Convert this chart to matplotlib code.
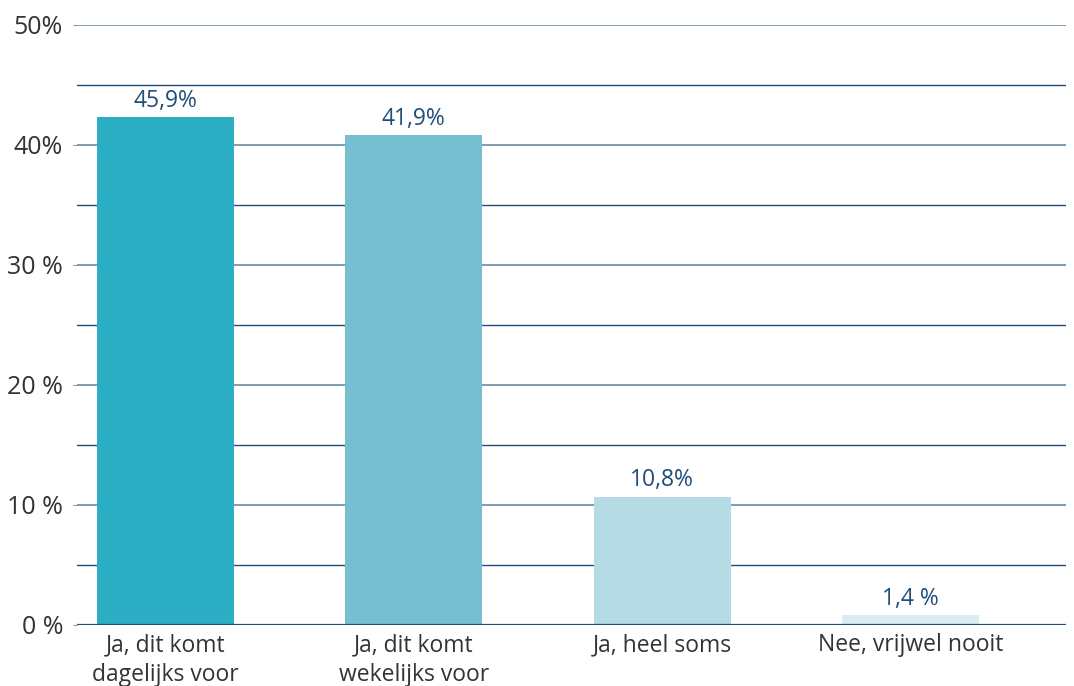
import matplotlib
matplotlib.use('Agg')
import matplotlib.pyplot as plt
import numpy as np

plt.rcParams['font.family'] = ['Open Sans', 'DejaVu Sans']

# bar heights as drawn, and the labels printed above them
categories = ['Ja, dit komt\ndagelijks voor', 'Ja, dit komt\nwekelijks voor',
              'Ja, heel soms', 'Nee, vrijwel nooit']
heights = [42.3, 40.8, 10.7, 0.8]
value_labels = ['45,9%', '41,9%', '10,8%', '1,4 %']
ytick_vals = [0, 10, 20, 30, 40, 50]
ytick_labels = ['0 %', '10 %', '20 %', '30 %', '40%', '50%']

colors = ['#2caec5', '#76bfd0', '#b5dbe5', '#d8ecf2']
navy = '#1f4e79'
light_grid = '#7d9db3'

fig = plt.figure(figsize=(10.74, 6.86), dpi=100)
ax = fig.add_axes([77/1074, 61/686, 989/1074, 600/686])

x = np.arange(len(categories))
ax.bar(x, heights, width=0.552, color=colors, zorder=3)

# grid: darker lines at the halves, lighter at the labelled ticks
for v in range(5, 50, 10):
    ax.axhline(v, color=navy, lw=1.0, zorder=1)
for v in range(10, 51, 10):
    ax.axhline(v, color=light_grid, lw=1.4, zorder=1)
ax.axhline(0, color=navy, lw=1.6, zorder=4)

for xi, h, lab in zip(x, heights, value_labels):
    ax.annotate(lab, (xi, h), xytext=(0, 3), textcoords='offset points',
                ha='center', va='bottom', fontsize=16.5, color=navy)

ax.set_xlim(-0.356, 3.626)
ax.set_ylim(0, 50)
ax.set_xticks(x)
ax.set_xticklabels(categories, fontsize=16.5, color='#333333',
                   linespacing=1.3)
ax.set_yticks(ytick_vals)
ax.set_yticklabels(ytick_labels, fontsize=18, color='#333333')
ax.tick_params(axis='x', length=0, pad=6)
ax.tick_params(axis='y', length=3, color=light_grid, pad=7)
for s in ax.spines.values():
    s.set_visible(False)

fig.savefig('out.png', dpi=100)
